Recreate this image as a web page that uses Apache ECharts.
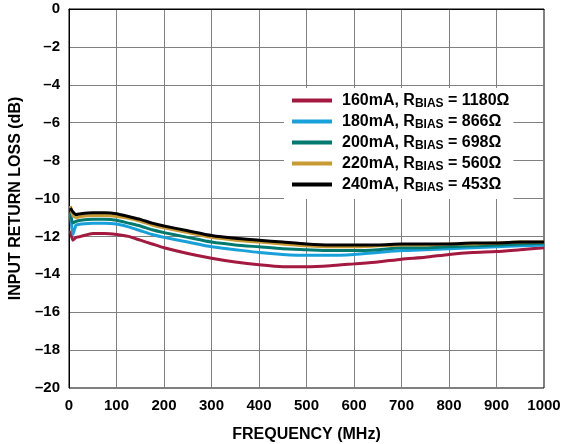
<!DOCTYPE html>
<html>
<head>
<meta charset="utf-8">
<title>Input Return Loss vs. Frequency</title>
<script src="https://cdn.jsdelivr.net/npm/echarts@6/dist/echarts.min.js"></script>
<style>
  html, body { margin: 0; padding: 0; background: #fff; }
  #chart { width: 566px; height: 444px; }
</style>
</head>
<body>
<div id="chart"></div>
<script>
// Frequency points (MHz)
const freqMHz = [3, 8, 15, 25, 50, 75, 100, 125, 150, 175, 200, 250, 300, 350, 400, 450, 500, 550, 600, 650, 700, 750, 800, 850, 900, 950, 1000];

// Input return loss (dB) per bias setting
const rl160 = [-11.7, -12.2, -12.05, -12.0, -11.85, -11.85, -11.9, -12.0, -12.2, -12.4, -12.6, -12.9, -13.15, -13.35, -13.5, -13.6, -13.6, -13.55, -13.45, -13.35, -13.2, -13.1, -12.95, -12.85, -12.8, -12.7, -12.6];
const rl180 = [-10.8, -11.9, -11.4, -11.35, -11.3, -11.3, -11.35, -11.5, -11.7, -11.9, -12.05, -12.3, -12.55, -12.7, -12.85, -12.95, -13.0, -13.0, -12.95, -12.85, -12.75, -12.7, -12.65, -12.6, -12.55, -12.5, -12.45];
const rl200 = [-10.7, -11.3, -11.2, -11.15, -11.1, -11.1, -11.15, -11.3, -11.45, -11.65, -11.8, -12.05, -12.3, -12.45, -12.55, -12.65, -12.7, -12.75, -12.75, -12.7, -12.6, -12.6, -12.55, -12.5, -12.45, -12.4, -12.35];
const rl220 = [-10.4, -10.9, -11.0, -10.95, -10.9, -10.9, -10.95, -11.05, -11.2, -11.4, -11.55, -11.8, -12.05, -12.2, -12.3, -12.4, -12.5, -12.55, -12.55, -12.5, -12.45, -12.45, -12.4, -12.4, -12.35, -12.3, -12.3];
const rl240 = [-10.5, -10.7, -10.85, -10.8, -10.75, -10.75, -10.8, -10.95, -11.1, -11.3, -11.45, -11.7, -11.95, -12.1, -12.2, -12.3, -12.4, -12.45, -12.45, -12.45, -12.4, -12.4, -12.4, -12.35, -12.35, -12.3, -12.3];

const biasCurrents = ['160mA', '180mA', '200mA', '220mA', '240mA'];
const biasResistors = ['1180', '866', '698', '560', '453'];
const seriesValues = [rl160, rl180, rl200, rl220, rl240];
const seriesColors = ['#A3193F', '#18A0DA', '#00796F', '#C79A33', '#000000'];

const xTicks = { min: 0, max: 1000, interval: 100 };
const yTicks = { min: -20, max: 0, interval: 2 };

const FONT = '"Liberation Sans", Arial, sans-serif';

const names = biasCurrents.map((c, i) => c + ', RBIAS = ' + biasResistors[i] + '\u03A9');

const series = seriesValues.map((vals, i) => ({
  name: names[i],
  type: 'line',
  showSymbol: false,
  smooth: 0.2,
  data: freqMHz.map((f, j) => [f, vals[j]]),
  lineStyle: { color: seriesColors[i], width: 3 },
  itemStyle: { color: seriesColors[i] },
  z: 2 + i
}));

const chart = echarts.init(document.getElementById('chart'), null, { renderer: 'canvas' });
chart.setOption({
  animation: false,
  backgroundColor: '#fff',
  grid: {
    left: 69, right: 22, top: 9, bottom: 56,
    containLabel: false, outerBoundsMode: 'none',
    show: true, borderColor: '#000', borderWidth: 1, backgroundColor: 'transparent'
  },
  xAxis: {
    type: 'value',
    min: xTicks.min, max: xTicks.max, interval: xTicks.interval,
    name: 'FREQUENCY (MHz)',
    nameLocation: 'middle',
    nameGap: 39,
    nameTextStyle: { fontFamily: FONT, fontWeight: 'bold', fontSize: 16, color: '#000' },
    axisLine: { show: true, lineStyle: { color: '#000', width: 1 } },
    axisTick: { show: false },
    axisLabel: {
      fontFamily: FONT, fontWeight: 'bold', fontSize: 15, color: '#000', margin: 10,
      formatter: v => String(v)
    },
    splitLine: { show: true, lineStyle: { color: '#808080', width: 1 } }
  },
  yAxis: {
    type: 'value',
    min: yTicks.min, max: yTicks.max, interval: yTicks.interval,
    name: 'INPUT RETURN LOSS (dB)',
    nameLocation: 'middle',
    nameGap: 43,
    nameRotate: 90,
    nameTextStyle: { fontFamily: FONT, fontWeight: 'bold', fontSize: 16, color: '#000' },
    axisLine: { show: true, lineStyle: { color: '#000', width: 1 } },
    axisTick: { show: false },
    axisLabel: {
      fontFamily: FONT, fontWeight: 'bold', fontSize: 15, color: '#000', margin: 9,
      formatter: v => String(v).replace('-', '\u2013')
    },
    splitLine: { show: true, lineStyle: { color: '#808080', width: 1 } }
  },
  legend: {
    orient: 'vertical',
    left: 284,
    top: 88,
    backgroundColor: '#fff',
    padding: [3, 4, 5, 8],
    itemGap: 2,
    itemWidth: 40,
    itemHeight: 4,
    icon: 'rect',
    data: names,
    formatter: name => {
      const parts = name.split('RBIAS');
      return '{p|' + parts[0] + 'R}{s|BIAS}{a|' + parts[1] + '}';
    },
    textStyle: {
      rich: {
        p: { fontFamily: FONT, fontWeight: 'bold', fontSize: 16, color: '#000', lineHeight: 17, padding: [0, 0, 0, 5] },
        a: { fontFamily: FONT, fontWeight: 'bold', fontSize: 16, color: '#000', lineHeight: 17 },
        s: { fontFamily: FONT, fontWeight: 'bold', fontSize: 12, color: '#000', lineHeight: 17, padding: [7, 0, 0, 0] }
      }
    }
  },
  series: series
});
</script>
</body>
</html>
